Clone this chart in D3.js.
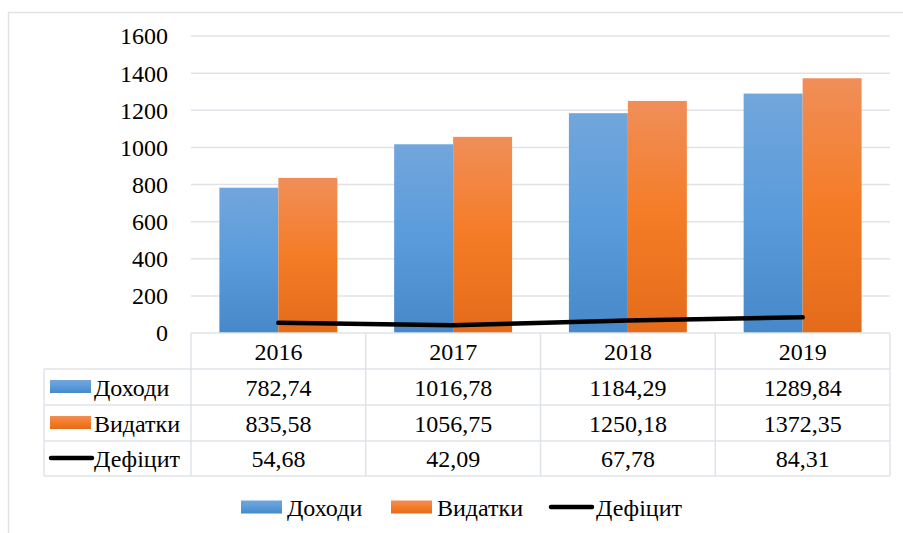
<!DOCTYPE html>
<html><head><meta charset="utf-8">
<script src="https://cdn.jsdelivr.net/npm/d3@7"></script>
</head><body style="margin:0;background:#fff"><svg id="c" width="903" height="533" font-family="Liberation Serif" style="display:block"></svg>
<script>
const years = ["2016","2017","2018","2019"];
const dohody = [782.74, 1016.78, 1184.29, 1289.84];
const vydatky = [835.58, 1056.75, 1250.18, 1372.35];
const deficit = [54.68, 42.09, 67.78, 84.31];
const yTicks = [0,200,400,600,800,1000,1200,1400,1600];
const seriesNames = ["Доходи","Видатки","Дефіцит"];
const fmt = v => v.toFixed(2).replace(".", ",");
const FONT = "Liberation Serif";

const svg = d3.select("#c");
const L = 191, R = 890, T = 36, B = 333;
const x = d3.scaleBand().domain(years).range([L, R]).paddingInner(0.325).paddingOuter(0.1625);
const xs = d3.scaleBand().domain([0,1]).range([0, x.bandwidth()]);
const y = d3.scaleLinear().domain([0,1600]).range([B, T]);

const defs = svg.append("defs");
function grad(id, stops){
  const g = defs.append("linearGradient").attr("id", id).attr("x1",0).attr("y1",0).attr("x2",0).attr("y2",1);
  stops.forEach(([o,c]) => g.append("stop").attr("offset", o).attr("stop-color", c));
}
grad("gb", [[0,"#72a6dc"],[0.5,"#5a9bdb"],[1,"#4688c8"]]);
grad("go", [[0,"#f08e59"],[0.5,"#f57c26"],[1,"#e46b1a"]]);

function txt(sel){ return sel.attr("font-family", FONT).style("font-family", FONT).attr("font-size", 24).attr("fill","#000"); }

// outer border
svg.append("rect").attr("x",8.5).attr("y",12.5).attr("width",1000).attr("height",600)
  .attr("fill","none").attr("stroke","#dfe3e8").attr("stroke-width",1.5);

// gridlines
svg.append("g").selectAll("line").data(yTicks.filter(d=>d>0)).join("line")
  .attr("x1",L).attr("x2",R).attr("y1",d=>y(d)).attr("y2",d=>y(d))
  .attr("stroke","#dfe3e8").attr("stroke-width",1.5);

// y axis labels
const yAxis = d3.axisLeft(y).tickValues(yTicks).tickFormat(d3.format("d")).tickSize(0).tickPadding(0);
const ga = svg.append("g").attr("transform",`translate(168,0)`).call(yAxis);
ga.attr("font-family", FONT).attr("font-size", 24);
ga.select(".domain").remove();
txt(ga.selectAll("text")).attr("dy","0.33em");

// bars
const cols = ["url(#gb)","url(#go)"];
[dohody, vydatky].forEach((arr, si) => {
  svg.append("g").selectAll("rect").data(arr).join("rect")
    .attr("x",(d,i)=>x(years[i]) + xs(si))
    .attr("width", xs.bandwidth())
    .attr("y", d=>y(d)).attr("height", d=>B - y(d))
    .attr("fill", cols[si]);
});

// deficit line
const line = d3.line().x((d,i)=>x(years[i]) + x.bandwidth()/2).y(d=>y(d));
svg.append("path").datum(deficit).attr("d", line).attr("fill","none")
  .attr("stroke","#000").attr("stroke-width",4.5).attr("stroke-linecap","round").attr("stroke-linejoin","round");

// data table
const step = (R - L)/years.length;
const rowY = [333, 369, 405, 441, 476];
const TL = 44;
const tg = svg.append("g");
const tc = "#dfe3e8";
tg.append("line").attr("x1",L).attr("x2",R).attr("y1",rowY[0]).attr("y2",rowY[0]).attr("stroke",tc).attr("stroke-width",1.5);
rowY.slice(1).forEach(ry => tg.append("line").attr("x1",TL).attr("x2",R).attr("y1",ry).attr("y2",ry).attr("stroke",tc).attr("stroke-width",1.5));
years.forEach((yr,i)=> tg.append("line").attr("x1",L+i*step).attr("x2",L+i*step).attr("y1",rowY[0]).attr("y2",rowY[4]).attr("stroke",tc).attr("stroke-width",1.5));
tg.append("line").attr("x1",R).attr("x2",R).attr("y1",rowY[0]).attr("y2",rowY[4]).attr("stroke",tc).attr("stroke-width",1.5);
tg.append("line").attr("x1",TL).attr("x2",TL).attr("y1",rowY[1]).attr("y2",rowY[4]).attr("stroke",tc).attr("stroke-width",1.5);

const rowCenter = i => (rowY[i] + rowY[i+1])/2;
txt(tg.selectAll("text.yr").data(years).join("text").attr("class","yr")
  .attr("x",(d)=>x(d)+x.bandwidth()/2).attr("y",rowCenter(0)+8.5)
  .attr("text-anchor","middle").text(d=>d));
[dohody, vydatky, deficit].forEach((arr, si) => {
  txt(tg.append("g").selectAll("text").data(arr).join("text")
    .attr("x",(d,i)=>x(years[i])+x.bandwidth()/2).attr("y",rowCenter(si+1)+8.5)
    .attr("text-anchor","middle").text(d=>fmt(d)));
});
function key(g, si, kx, cy){
  if (si < 2) g.append("rect").attr("x",kx).attr("y",cy-6.5).attr("width",41).attr("height",13).attr("fill",cols[si]);
  else g.append("line").attr("x1",kx+1).attr("x2",kx+42).attr("y1",cy).attr("y2",cy).attr("stroke","#000").attr("stroke-width",4.5).attr("stroke-linecap","round");
}
seriesNames.forEach((nm, si) => {
  const cy = rowCenter(si+1) - 0.5;
  key(tg, si, 50, cy);
  txt(tg.append("text").attr("x",94).attr("y",rowCenter(si+1)+8.5).text(nm));
});

// bottom legend
const lg = svg.append("g");
const legX = [241, 391, 550];
seriesNames.forEach((nm, si) => {
  key(lg, si, legX[si], 507);
  txt(lg.append("text").attr("x", legX[si] + 46).attr("y", 516).text(nm));
});
</script></body></html>
